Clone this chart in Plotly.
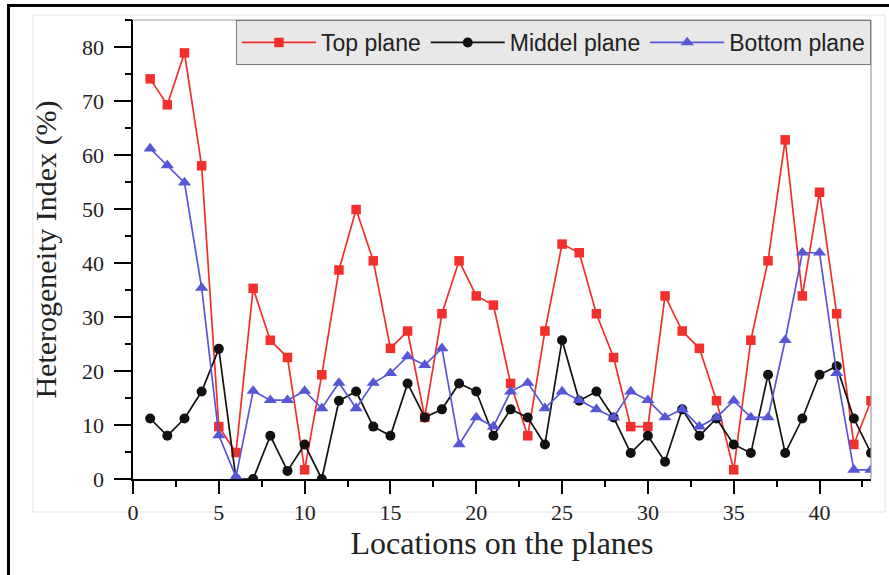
import plotly.graph_objects as go

locations = list(range(1, 44))
top_plane = [74.1, 69.3, 78.9, 58.0, 9.7, 4.9, 35.3, 25.7, 22.5, 1.7,
             19.3, 38.7, 49.9, 40.4, 24.2, 27.4, 11.4, 30.6, 40.4, 33.9,
             32.2, 17.7, 8.0, 27.4, 43.5, 41.9, 30.6, 22.5, 9.7, 9.7,
             33.9, 27.4, 24.2, 14.5, 1.7, 25.7, 40.4, 62.8, 33.9, 53.1,
             30.6, 6.4, 14.5]
middle_plane = [11.2, 8.0, 11.2, 16.2, 24.1, 0.0, 0.0, 8.0, 1.5, 6.4,
                0.0, 14.5, 16.2, 9.7, 8.0, 17.7, 11.4, 12.9, 17.7, 16.2,
                8.0, 12.9, 11.4, 6.4, 25.7, 14.5, 16.2, 11.4, 4.8, 8.0,
                3.2, 12.9, 8.0, 11.2, 6.4, 4.8, 19.3, 4.8, 11.2, 19.3,
                20.9, 11.2, 4.8]
bottom_plane = [61.2, 58.1, 54.9, 35.4, 8.1, 0.4, 16.3, 14.6, 14.6, 16.3,
                13.1, 17.8, 13.1, 17.8, 19.6, 22.7, 21.1, 24.2, 6.4, 11.4,
                9.7, 16.2, 17.8, 13.1, 16.2, 14.6, 12.9, 11.4, 16.2, 14.6,
                11.4, 12.9, 9.7, 11.4, 14.5, 11.4, 11.4, 25.7, 41.9, 41.9,
                19.6, 1.7, 1.7]
series_names = ["Top plane", "Middel plane", "Bottom plane"]
x_tick_vals = [0, 5, 10, 15, 20, 25, 30, 35, 40]
x_tick_text = ["0", "5", "10", "15", "20", "25", "30", "35", "40"]
y_tick_vals = [0, 10, 20, 30, 40, 50, 60, 70, 80]
y_tick_text = ["0\u00a0", "10\u00a0", "20\u00a0", "30\u00a0", "40\u00a0",
               "50\u00a0", "60\u00a0", "70\u00a0", "80\u00a0"]
x_minor_vals = [v + 2.5 for v in x_tick_vals]
y_minor_vals = [v + 5 for v in y_tick_vals]

W, H = 889, 575
L, R, T, B = 133, 871, 20, 479
X_RANGE = [0, 43]
Y_RANGE = [0, 85]


def px(x):
    return (x - L) / (R - L)


def py(y):
    return (B - y) / (B - T)


fig = go.Figure()
fig.add_trace(go.Scatter(x=locations, y=top_plane, name=series_names[0], mode="lines+markers",
                         line=dict(color="#f2302b", width=1.7),
                         marker=dict(symbol="square", size=9.5, color="#f2302b")))
fig.add_trace(go.Scatter(x=locations, y=middle_plane, name=series_names[1], mode="lines+markers",
                         line=dict(color="#111111", width=1.7),
                         marker=dict(symbol="circle", size=10, color="#111111")))
fig.add_trace(go.Scatter(x=locations, y=bottom_plane, name=series_names[2], mode="lines+markers",
                         line=dict(color="#5656d6", width=1.7),
                         marker=dict(symbol="triangle-up", size=11.5, color="#5656d6")))
# empty helper traces so the tick overlay axes exist
fig.add_trace(go.Scatter(x=[None], y=[None], xaxis="x2", yaxis="y2", showlegend=False,
                         hoverinfo="skip", mode="markers"))
fig.add_trace(go.Scatter(x=[None], y=[None], xaxis="x3", yaxis="y3", showlegend=False,
                         hoverinfo="skip", mode="markers"))

axis_font = dict(family="Liberation Serif, Times New Roman, serif", size=22, color="#222222")
ytitle_font = dict(family="Liberation Serif, Times New Roman, serif", size=30, color="#222222")
xtitle_font = dict(family="Liberation Serif, Times New Roman, serif", size=32, color="#222222")

shapes = [
    # outer black frame
    dict(type="rect", xref="paper", yref="paper", x0=px(8.5), x1=px(900), y0=py(590), y1=py(5.5),
         line=dict(color="black", width=3), fillcolor="rgba(0,0,0,0)", layer="below"),
    # faint inner frame
    dict(type="rect", xref="paper", yref="paper", x0=px(33), x1=px(885), y0=py(512), y1=py(15),
         line=dict(color="#e4e4e4", width=1), fillcolor="rgba(0,0,0,0)", layer="below"),
    # top and right plot frame (gray)
    dict(type="line", xref="paper", yref="paper", x0=0, x1=1, y0=1, y1=1,
         line=dict(color="#9a9a9a", width=1.2)),
    dict(type="line", xref="paper", yref="paper", x0=1, x1=1, y0=0, y1=1,
         line=dict(color="#9a9a9a", width=1.2)),
]


def tick_axis(overlay, anchor, side, rng, vals, length):
    return dict(range=rng, overlaying=overlay, anchor=anchor, side=side,
                tickmode="array", tickvals=vals, ticks="outside", ticklen=length,
                tickwidth=2, tickcolor="black", showticklabels=False, showline=False,
                showgrid=False, zeroline=False)


fig.update_layout(
    width=W, height=H,
    margin=dict(l=L, r=W - R, t=T, b=H - B, autoexpand=False),
    paper_bgcolor="white", plot_bgcolor="white",
    shapes=shapes,
    showlegend=True,
    xaxis=dict(range=X_RANGE, tickmode="array", tickvals=x_tick_vals, ticktext=x_tick_text,
               ticks="outside", ticklen=13, tickwidth=2, tickcolor="black",
               showline=True, linecolor="black", linewidth=2,
               showgrid=False, zeroline=False, tickfont=axis_font,
               title=dict(text="Locations on the planes", font=xtitle_font, standoff=6)),
    yaxis=dict(range=Y_RANGE, tickmode="array", tickvals=y_tick_vals, ticktext=y_tick_text,
               ticks="outside", ticklen=17, tickwidth=2, tickcolor="black",
               showline=True, linecolor="black", linewidth=2,
               showgrid=False, zeroline=False, tickfont=axis_font,
               title=dict(text="Heterogeneity Index (%)", font=ytitle_font, standoff=17)),
    xaxis2=tick_axis("x", "y", "bottom", X_RANGE, x_minor_vals, 7),
    yaxis2=tick_axis("y", "x", "left", Y_RANGE, y_minor_vals, 7),
    xaxis3=tick_axis("x", "y", "bottom", X_RANGE, x_tick_vals, 13),
    yaxis3=tick_axis("y", "x", "left", Y_RANGE, y_tick_vals, 17),
    legend=dict(orientation="h", x=1, xanchor="right", y=1, yanchor="top",
                bgcolor="#e8e8e8", bordercolor="#7a7a7a", borderwidth=1,
                font=dict(family="Liberation Sans, Arial, sans-serif", size=23, color="#222222"),
                itemwidth=74, tracegroupgap=0),
)

fig.write_html("out.html")
